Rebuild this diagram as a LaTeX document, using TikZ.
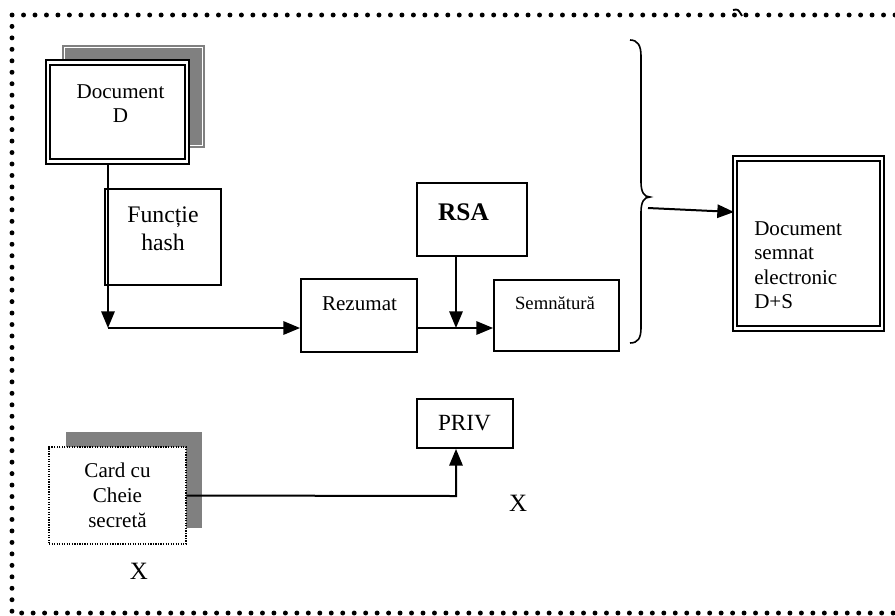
\documentclass[tikz,border=0pt]{standalone}
\usepackage{fontspec}
\setmainfont{Liberation Serif}
\usetikzlibrary{arrows.meta,calc}
\newdimen\pxu \pxu=0.75pt
\newcommand{\fs}[2]{\fontsize{#1}{#2}\selectfont}
\begin{document}
\begin{tikzpicture}[x=0.75pt,y=-0.75pt,
  box/.style={draw,line width=1.4pt,fill=white,inner sep=0pt},
  frame/.style={draw,line width=2.2pt,fill=white,inner sep=0pt},
  txt/.style={inner sep=0pt,align=center},
  arr/.style={line width=1.5pt,-{Triangle[length=12.5pt,width=10pt]}},
  shade/.style={fill=black!50},
  outline/.style={line width=3.7pt,line cap=round,dash pattern=on 0pt off 8.6pt}]
\useasboundingbox (0,0) rectangle (895,615);

% outer dotted frame
\draw[outline] (895,15) -- (12,15) -- (12,613) -- (895,613);
\draw[line width=1.4pt] (733,10) .. controls (738,9) .. (742,16);

% shadows
\fill[shade] (62,45) rectangle (205,148);
\draw[white,line width=0.6pt] (64.5,47.5) rectangle (202.5,145.5);
\fill[shade] (66,432) rectangle (202,528);

% boxes
\node[frame,minimum width=143\pxu,minimum height=104\pxu] (doc) at (117.5,112) {};
\draw[line width=1.5pt] ([shift={(5,6)}]doc.north west) rectangle ([shift={(-5,-6)}]doc.south east);
\node[txt,font=\fs{15.8}{18}] (doctxt) at (120.5,104) {Document\\D};

\node[box,minimum width=116\pxu,minimum height=96\pxu] (hash) at (163,237) {};
\node[txt,font=\fs{17.8}{21}] (hashtxt) at (163,229) {Funcție\\hash};

\node[box,minimum width=116\pxu,minimum height=73\pxu] (rez) at (359,315.5) {};
\node[txt,font=\fs{15.8}{18}] (reztxt) at (359.5,304) {Rezumat};

\node[box,minimum width=110\pxu,minimum height=73\pxu] (rsa) at (472,219.5) {};
\node[txt,font=\fs{19}{22}\bfseries] (rsatxt) at (463.5,212) {RSA};

\node[box,minimum width=125\pxu,minimum height=71\pxu] (semn) at (556.5,315.5) {};
\node[txt,font=\fs{14}{17}] (semntxt) at (555,303) {Semnătură};

\node[frame,minimum width=151\pxu,minimum height=175\pxu] (docs) at (808.5,243.5) {};
\draw[line width=1.5pt] ([shift={(5,6)}]docs.north west) rectangle ([shift={(-5,-6)}]docs.south east);
\node[txt,align=left,anchor=west,font=\fs{15.8}{18.4}] (docstxt) at (754,265) {Document\\semnat\\electronic\\D+S};

\node[box,minimum width=96\pxu,minimum height=49\pxu] (priv) at (465,423.5) {};
\node[txt,font=\fs{17.4}{20}] (privtxt) at (464.5,423) {PRIV};

\node[draw,densely dotted,line width=0.9pt,fill=white,inner sep=0pt,minimum width=137\pxu,minimum height=97\pxu] (card) at (117.5,495.5) {};
\node[txt,font=\fs{15.8}{18.8}] (cardtxt) at (117.5,495.5) {Card cu\\Cheie\\secretă};

\node[txt,font=\fs{18.7}{22}] (x1) at (518,503) {X};
\node[txt,font=\fs{18.7}{22}] (x2) at (139,571) {X};

% right brace
\draw[line width=1.2pt] (630,40) .. controls (638,40) and (641,46) .. (641,56) -- (641,182)
  .. controls (641,192) and (644,197) .. (650,197)
  .. controls (644,197) and (641,202) .. (641,212) -- (641,328)
  .. controls (641,338) and (638,343) .. (630,343);

% connectors
\coordinate (corner) at (108,328);
\coordinate (join) at (456,328);
\coordinate (bracetip) at (648,208);
\coordinate (docin) at (734,212);
\coordinate (bend) at (456,496);

\draw[arr] (doc.south -| corner) -- (corner);
\draw[arr] (corner) -- (rez.west |- corner);
\draw[arr] (rez.east |- join) -- (semn.west |- join);
\draw[arr] (rsa.south -| join) -- (join);
\draw[arr] (bracetip) -- (docin);
\draw[arr] (card.east) -- (bend) -- (priv.south -| bend);
\end{tikzpicture}
\end{document}
